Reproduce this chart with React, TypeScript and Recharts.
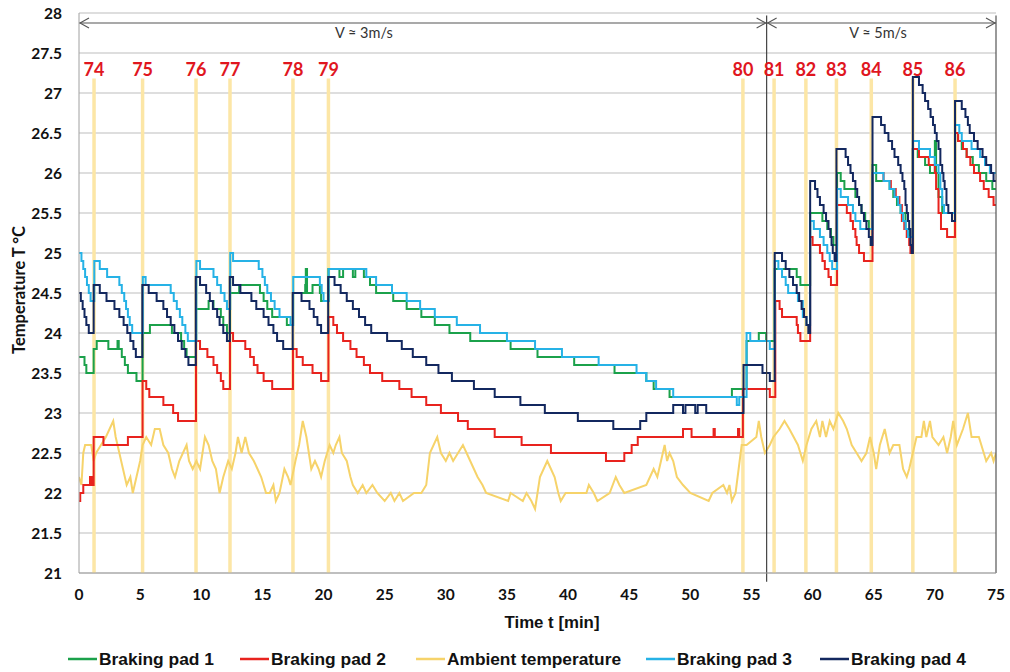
import React from 'react';
import { LineChart, Line, XAxis, YAxis, CartesianGrid, ReferenceLine, ReferenceDot } from 'recharts';

type P = [number, number];

// ---- Series (time [min], temperature [°C]) ----
const pad1: P[] = [
  [0,23.7],[0.45,23.6],[0.6,23.5],[1.2,23.8],[1.45,23.9],[2.4,23.8],[3.15,23.9],[3.25,23.8],[3.5,23.7],[3.75,23.6],[4.0,23.5],[4.7,23.4],
  [5.2,24.0],[5.8,24.1],[7.6,24.0],[8.35,23.9],[8.6,23.8],[8.8,23.7],
  [9.57,24.3],[10.6,24.4],[11.0,24.3],[11.6,24.2],[11.8,24.1],[12.1,24.0],
  [12.35,24.5],[13.1,24.6],[14.8,24.5],[15.1,24.4],[15.4,24.3],[15.8,24.2],[17.0,24.1],
  [17.5,24.5],[18.5,24.6],[18.55,24.8],[18.65,24.5],[19.1,24.6],[19.7,24.5],[19.8,24.4],
  [20.4,24.8],[21.3,24.7],[21.6,24.8],[22.4,24.7],[22.6,24.8],[23.3,24.7],[23.8,24.6],[24.3,24.5],[25.7,24.4],[26.8,24.3],[28.0,24.2],[29.1,24.1],[30.3,24.0],[32.0,23.9],[35.3,23.8],[37.5,23.7],[40.5,23.6],[43.8,23.5],[46.4,23.4],[47.0,23.3],[48.3,23.2],[53.4,23.3],
  [54.6,23.9],[55.6,24.0],[56.2,23.9],
  [56.9,24.8],[58.7,24.7],[59.0,24.6],
  [59.8,25.5],[60.8,25.4],[61.2,25.3],[61.5,25.2],[61.7,25.1],
  [62.0,26.0],[62.3,25.9],[62.6,25.8],[63.5,25.7],[63.8,25.6],[64.0,25.5],[64.3,25.4],[64.6,25.3],
  [64.9,26.1],[65.2,25.9],[66.3,25.8],[66.6,25.7],[66.9,25.6],[67.2,25.5],[67.6,25.3],[67.9,25.2],
  [68.2,26.3],[68.6,26.2],[69.2,26.1],[69.6,26.0],[70.0,26.4],[70.1,26.0],[70.3,25.7],[70.6,25.5],
  [71.65,26.5],[71.9,26.4],[72.2,26.3],[72.6,26.2],[73.1,26.1],[73.6,26.0],[74.2,25.9],[74.7,25.8],[75,25.8],
];

const pad2: P[] = [
  [0,21.9],[0.1,22.0],[0.35,22.1],[0.9,22.2],[1.05,22.1],[1.2,22.7],[2.0,22.6],[4.0,22.7],
  [5.2,23.4],[5.5,23.3],[5.75,23.2],[6.9,23.1],[7.7,23.0],[8.1,22.9],
  [9.57,23.9],[9.9,23.8],[10.5,23.7],[11.0,23.6],[11.3,23.5],[11.6,23.4],[11.8,23.3],
  [12.35,24.0],[12.6,23.9],[13.6,23.8],[14.0,23.7],[14.3,23.6],[14.6,23.5],[15.1,23.4],[15.8,23.3],
  [17.5,23.8],[17.8,23.7],[18.3,23.6],[19.1,23.5],[19.8,23.4],
  [20.4,24.2],[20.8,24.1],[21.1,24.0],[21.6,23.9],[22.2,23.8],[22.7,23.7],[23.3,23.6],[23.8,23.5],[24.8,23.4],[26.2,23.3],[27.2,23.2],[28.4,23.1],[29.6,23.0],[31.0,22.9],[31.8,22.8],[34.0,22.7],[36.2,22.6],[38.6,22.5],[43.1,22.4],[44.6,22.5],[45.2,22.6],[45.7,22.7],[49.4,22.8],[50.1,22.7],[51.9,22.8],[52.0,22.7],[53.9,22.8],[54.0,22.7],
  [54.3,23.3],[56.5,23.2],
  [56.95,24.4],[57.3,24.3],[57.5,24.2],[58.7,24.1],[58.8,24.0],[59.0,23.9],
  [59.8,25.2],[60.0,25.1],[60.6,25.0],[60.8,24.9],[61.0,24.8],[61.3,24.7],[61.5,24.6],
  [62.0,25.6],[62.8,25.5],[63.1,25.4],[63.3,25.3],[63.5,25.2],[63.6,25.1],[63.8,25.0],[64.2,24.9],
  [64.9,26.0],[65.8,25.9],[66.4,25.8],[66.8,25.7],[67.1,25.6],[67.3,25.4],[67.5,25.3],[67.7,25.2],[67.9,25.1],[68.0,25.0],
  [68.2,26.3],[68.7,26.2],[69.5,26.1],[70.0,26.0],[70.1,25.8],[70.3,25.5],[70.5,25.3],[71.0,25.2],
  [71.65,26.5],[71.9,26.4],[72.3,26.3],[72.6,26.2],[72.9,26.1],[73.2,26.0],[73.7,25.9],[74.0,25.8],[74.4,25.7],[74.8,25.6],[75,25.6],
];

const ambient: P[] = [
  [0,22.2],[0.2,22.1],[0.35,22.5],[0.5,22.6],[1.0,22.6],[1.2,22.4],[1.4,22.5],[1.8,22.6],[2.2,22.7],[2.5,22.8],[2.8,22.9],[3.0,22.7],[3.3,22.5],[3.6,22.3],[3.9,22.1],[4.2,22.2],[4.4,22.0],[4.7,22.2],[5.0,22.4],[5.2,22.6],[5.5,22.7],[5.9,22.6],[6.2,22.8],[6.6,22.8],[6.9,22.6],[7.3,22.5],[7.6,22.3],[7.85,22.2],[8.2,22.4],[8.5,22.5],[8.8,22.6],[9.0,22.4],[9.3,22.3],[9.6,22.4],[9.9,22.3],[10.1,22.5],[10.3,22.7],[10.6,22.6],[10.9,22.4],[11.2,22.3],[11.5,22.0],[11.8,22.2],[12.2,22.4],[12.5,22.3],[12.8,22.5],[13.0,22.7],[13.3,22.5],[13.6,22.7],[13.9,22.5],[14.3,22.4],[14.6,22.3],[14.9,22.2],[15.3,22.0],[15.6,22.0],[15.9,22.1],[16.1,21.9],[16.4,22.0],[16.8,22.3],[17.1,22.2],[17.3,22.1],[17.7,22.4],[18.0,22.6],[18.3,22.9],[18.6,22.7],[18.8,22.5],[19.0,22.3],[19.3,22.4],[19.6,22.3],[19.8,22.2],[20.1,22.4],[20.5,22.6],[20.8,22.5],[21.0,22.6],[21.3,22.7],[21.5,22.5],[21.9,22.4],[22.2,22.2],[22.4,22.1],[22.8,22.0],[23.2,22.1],[23.5,22.0],[24.0,22.1],[24.4,22.0],[25.0,21.9],[25.5,22.0],[25.8,21.9],[26.2,22.0],[26.5,21.9],[27.4,22.0],[28.0,22.0],[28.4,22.1],[28.7,22.5],[29.3,22.7],[29.6,22.5],[30.0,22.4],[30.3,22.5],[30.6,22.4],[31.0,22.5],[31.4,22.6],[31.7,22.5],[32.0,22.4],[32.3,22.3],[32.6,22.2],[33.0,22.1],[33.3,22.0],[35.1,21.9],[35.3,22.0],[36.3,21.9],[36.6,22.0],[37.0,21.9],[37.3,21.8],[37.5,22.0],[37.7,22.2],[38.0,22.3],[38.3,22.4],[38.6,22.3],[38.9,22.2],[39.2,22.0],[39.4,21.9],[39.8,22.0],[41.5,22.0],[41.7,22.1],[42.1,22.0],[42.4,21.9],[43.4,22.0],[43.9,22.2],[44.2,22.1],[44.6,22.0],[46.4,22.1],[46.7,22.2],[47.0,22.3],[47.3,22.2],[47.6,22.4],[47.9,22.6],[48.1,22.4],[48.3,22.5],[48.6,22.4],[48.9,22.2],[49.4,22.1],[50.0,22.0],[51.5,21.9],[51.8,22.0],[52.7,22.1],[53.0,22.0],[53.2,22.1],[53.4,21.9],[53.7,22.0],[53.95,22.3],[54.2,22.6],[54.6,22.6],[55.4,22.7],[55.6,22.9],[55.8,22.7],[56.1,22.5],[56.5,22.6],[56.8,22.7],[57.3,22.8],[57.7,22.9],[58.1,22.8],[58.8,22.6],[59.2,22.4],[59.5,22.6],[59.9,22.8],[60.3,22.9],[60.6,22.7],[60.8,22.9],[61.1,22.7],[61.4,22.9],[61.7,22.8],[62.1,23.0],[62.5,22.9],[62.8,22.8],[63.2,22.6],[63.6,22.5],[64.0,22.4],[64.4,22.5],[64.7,22.7],[65.0,22.5],[65.2,22.3],[65.5,22.6],[65.9,22.8],[66.3,22.5],[66.6,22.6],[67.1,22.6],[67.4,22.3],[67.7,22.2],[67.9,22.3],[68.2,22.5],[68.5,22.7],[68.9,22.7],[69.1,22.9],[69.3,22.7],[69.6,22.9],[69.8,22.7],[70.3,22.6],[70.7,22.7],[71.0,22.5],[71.3,22.7],[71.5,22.9],[71.8,22.6],[72.3,22.8],[72.7,23.0],[73.0,22.7],[73.6,22.7],[74.0,22.5],[74.2,22.4],[74.6,22.5],[74.8,22.4],[75,22.5],
];

const pad3: P[] = [
  [0,25.0],[0.2,24.9],[0.35,24.8],[0.5,24.7],[0.65,24.6],[0.8,24.5],[0.95,24.4],
  [1.25,24.9],[1.7,24.8],[2.3,24.7],[3.3,24.6],[3.5,24.5],[3.7,24.4],[3.85,24.3],[4.0,24.2],[4.15,24.1],[4.35,24.0],
  [5.22,24.7],[5.45,24.6],[7.5,24.5],[7.75,24.4],[8.0,24.3],[8.25,24.2],[8.45,24.1],[8.7,24.0],[8.9,23.9],
  [9.6,24.9],[9.9,24.8],[11.0,24.7],[11.3,24.6],[11.6,24.5],[11.9,24.4],[12.1,24.3],
  [12.37,25.0],[12.6,24.9],[14.7,24.8],[15.0,24.7],[15.2,24.6],[15.4,24.5],[15.7,24.4],[16.0,24.3],[16.4,24.2],[17.3,24.1],
  [17.52,24.7],[19.7,24.6],[19.85,24.5],[20.0,24.4],
  [20.42,24.8],[23.5,24.7],[24.3,24.6],[25.6,24.5],[26.8,24.4],[27.9,24.3],[29.1,24.2],[30.9,24.1],[32.8,24.0],[35.0,23.9],[37.3,23.8],[39.5,23.7],[42.5,23.6],[45.6,23.5],[46.4,23.4],[47.2,23.3],[48.6,23.2],[53.8,23.1],[54.0,23.2],[54.6,24.0],[54.9,23.9],[56.5,23.8],
  [56.9,24.9],[57.2,24.8],[57.5,24.7],[57.8,24.6],[58.0,24.5],[58.8,24.4],[59.2,24.2],[59.5,24.1],
  [59.8,25.4],[60.1,25.3],[60.6,25.2],[60.9,25.1],[61.2,25.0],[61.4,24.9],[61.6,24.8],
  [62.0,25.8],[62.3,25.7],[62.9,25.6],[63.3,25.5],[63.5,25.4],[63.9,25.3],
  [64.9,26.0],[65.8,25.9],[66.3,25.8],[66.7,25.7],[67.0,25.6],[67.2,25.5],[67.4,25.4],[67.6,25.3],[67.8,25.2],
  [68.2,26.4],[68.7,26.3],[69.6,26.2],[70.0,26.1],[70.3,26.0],[70.45,25.8],[70.6,25.6],[70.75,25.5],
  [71.65,26.6],[72.0,26.5],[72.2,26.4],[73.0,26.3],[73.7,26.2],[74.1,26.1],[74.5,26.0],[75,26.0],
];

const pad4: P[] = [
  [0,24.5],[0.15,24.4],[0.3,24.3],[0.45,24.2],[0.6,24.1],[0.8,24.0],
  [1.2,24.6],[1.7,24.5],[2.25,24.4],[2.9,24.3],[3.3,24.2],[3.65,24.1],[3.95,24.0],[4.2,23.9],[4.45,23.8],[4.65,23.7],
  [5.18,24.6],[5.7,24.5],[6.35,24.4],[6.9,24.3],[7.2,24.2],[7.5,24.1],[7.8,24.0],[8.1,23.9],[8.4,23.8],[8.7,23.7],[8.95,23.6],
  [9.55,24.7],[9.9,24.6],[10.4,24.5],[10.7,24.4],[10.95,24.3],[11.3,24.2],[11.5,24.1],[11.8,24.0],[12.1,23.9],
  [12.33,24.7],[12.6,24.6],[13.2,24.5],[14.1,24.4],[14.5,24.3],[15.1,24.2],[15.5,24.1],[15.9,24.0],[16.2,23.9],[16.7,23.8],
  [17.48,24.5],[18.2,24.4],[18.85,24.3],[19.2,24.2],[19.5,24.1],[19.8,24.0],
  [20.38,24.7],[20.9,24.6],[21.4,24.5],[21.9,24.4],[22.4,24.3],[22.9,24.2],[23.4,24.1],[23.9,24.0],[25.2,23.9],[26.4,23.8],[27.3,23.7],[28.4,23.6],[29.4,23.5],[30.5,23.4],[32.3,23.3],[34.0,23.2],[36.1,23.1],[38.1,23.0],[40.8,22.9],[43.7,22.8],[45.9,22.9],[46.4,23.0],[48.6,23.1],[49.4,23.0],[49.6,23.1],[50.4,23.0],[50.6,23.1],[51.3,23.0],
  [54.35,23.6],[55.9,23.5],[56.5,23.4],
  [56.9,25.0],[57.5,24.9],[57.8,24.8],[58.1,24.7],[58.4,24.6],[58.7,24.5],[58.9,24.4],[59.1,24.3],[59.3,24.2],[59.5,24.1],[59.65,24.0],
  [59.8,25.9],[60.2,25.8],[60.4,25.7],[60.6,25.6],[60.9,25.5],[61.1,25.4],[61.3,25.3],[61.45,25.2],[61.55,25.1],[61.65,25.0],[61.8,24.9],
  [61.95,26.3],[62.7,26.2],[62.9,26.1],[63.1,26.0],[63.3,25.9],[63.5,25.8],[63.65,25.7],[63.8,25.6],[64.0,25.5],[64.2,25.4],[64.4,25.3],[64.6,25.2],[64.75,25.1],
  [64.9,26.7],[65.6,26.6],[65.9,26.5],[66.2,26.4],[66.5,26.3],[66.7,26.2],[67.0,26.1],[67.2,26.0],[67.35,25.9],[67.5,25.8],[67.6,25.6],[67.7,25.5],[67.8,25.4],[67.9,25.3],[68.0,25.1],[68.1,25.0],
  [68.2,27.2],[68.7,27.1],[69.0,27.0],[69.2,26.9],[69.45,26.8],[69.65,26.7],[69.85,26.6],[70.0,26.5],[70.15,26.4],[70.3,26.3],[70.45,26.1],[70.6,26.0],[70.7,25.9],[70.8,25.8],[70.95,25.6],[71.1,25.5],[71.4,25.4],
  [71.65,26.9],[72.2,26.8],[72.5,26.7],[72.7,26.6],[72.85,26.5],[73.2,26.4],[73.5,26.3],[73.9,26.2],[74.2,26.1],[74.6,26.0],[74.8,25.9],[75,25.9],
];

// ---- Annotations ----
const eventTimes = [1.23, 5.2, 9.57, 12.35, 17.5, 20.4, 54.3, 56.85, 59.45, 61.95, 64.8, 68.2, 71.65];
const eventNames = ['74', '75', '76', '77', '78', '79', '80', '81', '82', '83', '84', '85', '86'];
const eventLabelLevel = 27.29;
const eventLineTop = 27.18;
const speedBoundary = 56.24;
const speedRanges: [number, number][] = [[0, speedBoundary], [speedBoundary, 75]];
const speedNames = ['V ≈ 3m/s', 'V ≈ 5m/s'];
const speedLabelTimes = [23.3, 65.35];
const arrowLevel = 27.875;
const speedLabelLevel = 27.75;

const xTicks = [0, 5, 10, 15, 20, 25, 30, 35, 40, 45, 50, 55, 60, 65, 70, 75];
const yTicks = [21, 21.5, 22, 22.5, 23, 23.5, 24, 24.5, 25, 25.5, 26, 26.5, 27, 27.5, 28];

const series = [
  { name: 'Braking pad 1', data: pad1, color: '#1BA14B', type: 'stepAfter' },
  { name: 'Braking pad 2', data: pad2, color: '#E8231E', type: 'stepAfter' },
  { name: 'Ambient temperature', data: ambient, color: '#F6D36A', type: 'linear' },
  { name: 'Braking pad 3', data: pad3, color: '#26B2E6', type: 'stepAfter' },
  { name: 'Braking pad 4', data: pad4, color: '#13285F', type: 'stepAfter' },
];
const drawOrder = [2, 0, 1, 3, 4];
const legendLineX = [68, 240, 416, 646, 820];
const legendTextWidth = [115, 115, 174, 115, 115];

const toRows = (a: P[]) => a.map(([t, v]) => ({ t, v }));

const tickFont = { fontFamily: 'Lato, "Open Sans", sans-serif', fontWeight: 700, fontSize: 15.5, fill: '#111' };
const arialFont = '"Liberation Sans", Arial, sans-serif';

function ArrowShape(props: any) {
  const { x1, y1, x2 } = props;
  const xa = Math.min(x1, x2);
  const xb = Math.max(x1, x2);
  const y = y1;
  const h = 10;
  const w = 5;
  return (
    <g stroke="#555" strokeWidth={1.1} fill="none">
      <line x1={xa} y1={y} x2={xb} y2={y} />
      <polyline points={`${xa + h},${y - w} ${xa + 1},${y} ${xa + h},${y + w}`} />
      <polyline points={`${xb - h},${y - w} ${xb - 1},${y} ${xb - h},${y + w}`} />
    </g>
  );
}

export default function App() {
  return (
    <div style={{ position: 'fixed', left: 0, top: 0, width: 1010, height: 672, background: '#fff', overflow: 'hidden' }}>
      <LineChart width={1010} height={672} margin={{ top: 13, right: 14, bottom: 0, left: 0 }}>
        <CartesianGrid vertical={false} stroke="#BDBDBD" strokeWidth={1} />
        <XAxis
          dataKey="t"
          type="number"
          domain={[0, 75]}
          ticks={xTicks}
          allowDataOverflow
          height={99}
          tickSize={0}
          tickMargin={16}
          axisLine={{ stroke: '#A0A0A0' }}
          tick={tickFont}
          label={{
            content: () => (
              <text x={552} y={622} textAnchor="middle" dominantBaseline="central" textLength={95} lengthAdjust="spacingAndGlyphs"
                style={{ fontFamily: arialFont, fontWeight: 700, fontSize: 17, fill: '#111' }}>
                Time t [min]
              </text>
            ),
          }}
        />
        <YAxis
          type="number"
          domain={[21, 28]}
          ticks={yTicks}
          allowDataOverflow
          width={79}
          tickSize={0}
          tickMargin={17}
          axisLine={{ stroke: '#A0A0A0' }}
          tick={tickFont}
          label={{
            content: () => (
              <text x={19} y={290} transform="rotate(-90 19 290)" textAnchor="middle" dominantBaseline="central"
                style={{ fontFamily: 'Lato, "Open Sans", sans-serif', fontWeight: 700, fontSize: 16.5, fill: '#111' }}>
                Temperature T °C
              </text>
            ),
          }}
        />
        {eventTimes.map((t, i) => (
          <ReferenceLine
            key={'ev' + i}
            segment={[{ x: t, y: eventLineTop }, { x: t, y: 21 }]}
            stroke="#FCE6A6"
            strokeWidth={3.5}
          />
        ))}
        {eventTimes.map((t, i) => (
          <ReferenceDot
            key={'evl' + i}
            x={t}
            y={eventLabelLevel}
            r={0}
            fill="none"
            stroke="none"
            label={{ value: eventNames[i], position: 'center', fill: '#E0161E', fontSize: 18, fontWeight: 700, fontFamily: 'Lato, "Open Sans", sans-serif' }}
          />
        ))}
        {drawOrder.map((k) => {
          const s = series[k];
          return (
            <Line
              key={s.name}
              name={s.name}
              data={toRows(s.data)}
              dataKey="v"
              type={s.type as any}
              stroke={s.color}
              strokeWidth={2}
              dot={false}
              activeDot={false}
              isAnimationActive={false}
            />
          );
        })}
        <ReferenceLine
          segment={[{ x: speedBoundary, y: 27.97 }, { x: speedBoundary, y: 20.89 }]}
          stroke="#444"
          strokeWidth={1.2}
          ifOverflow="visible"
        />
        <ReferenceLine
          segment={[{ x: 75, y: 27.97 }, { x: 75, y: 21 }]}
          stroke="#555"
          strokeWidth={1.2}
          ifOverflow="visible"
        />
        {speedRanges.map((r, i) => (
          <ReferenceLine
            key={'sr' + i}
            segment={[{ x: r[0], y: arrowLevel }, { x: r[1], y: arrowLevel }]}
            shape={ArrowShape}
            ifOverflow="visible"
          />
        ))}
        {speedNames.map((n, i) => (
          <ReferenceDot
            key={'sn' + i}
            x={speedLabelTimes[i]}
            y={speedLabelLevel}
            r={0}
            fill="none"
            stroke="none"
            label={{ value: n, position: 'center', fill: '#333', fontSize: 14.5, fontFamily: 'Lato, "Open Sans", sans-serif' }}
          />
        ))}
      </LineChart>
      <svg style={{ position: 'absolute', left: 0, top: 646, width: 1010, height: 26 }} width={1010} height={26}>
        {series.map((s, i) => (
          <g key={s.name}>
            <line x1={legendLineX[i]} y1={13} x2={legendLineX[i] + 29} y2={13} stroke={s.color} strokeWidth={2.5} />
            <text x={legendLineX[i] + 31} y={13} dominantBaseline="central" textLength={legendTextWidth[i]} lengthAdjust="spacingAndGlyphs"
              style={{ fontFamily: arialFont, fontWeight: 700, fontSize: 16, fill: '#111' }}>
              {s.name}
            </text>
          </g>
        ))}
      </svg>
    </div>
  );
}
